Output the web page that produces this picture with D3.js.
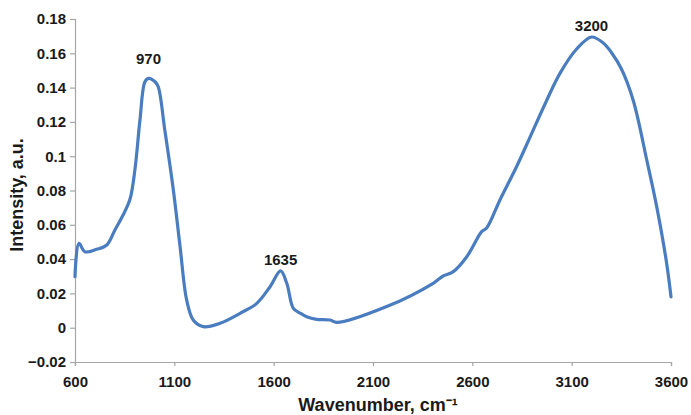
<!DOCTYPE html>
<html>
<head>
<meta charset="utf-8">
<script src="https://cdn.jsdelivr.net/npm/d3@7"></script>
<style>
  html, body { margin: 0; padding: 0; background: #fff; }
  svg text { font-family: "Liberation Sans", Arial, sans-serif; font-weight: bold; fill: #1a1a1a; }
</style>
</head>
<body>
<svg id="chart" width="691" height="415"></svg>
<script>
// Spectrum: wavenumber (cm^-1) and intensity (a.u.)
const wavenumber = [600, 620, 650, 709, 760, 801, 842, 877, 902, 927, 952, 970, 1003, 1019, 1052,
  1095, 1129, 1162, 1195, 1246, 1330, 1431, 1515, 1582, 1635, 1666, 1699, 1733, 1766, 1816, 1884,
  1917, 2169, 2403, 2454, 2504, 2572, 2647, 2672, 2739, 2823, 2890, 2974, 3041, 3125, 3200, 3259,
  3300, 3350, 3410, 3478, 3528, 3578, 3600];
const intensity = [0.0297, 0.0492, 0.0443, 0.0457, 0.0482, 0.0570, 0.0657, 0.0750, 0.0925, 0.1211,
  0.1434, 0.1454, 0.1434, 0.1405, 0.1153, 0.0803, 0.0472, 0.0162, 0.0045, 0.0006, 0.0026, 0.0084,
  0.0142, 0.0239, 0.0331, 0.0259, 0.0113, 0.0085, 0.0064, 0.0049, 0.0045, 0.0031, 0.0123, 0.0259,
  0.0302, 0.0327, 0.0414, 0.0560, 0.0581, 0.0745, 0.0940, 0.1110, 0.1325, 0.1483, 0.1625, 0.1695,
  0.1660, 0.1605, 0.1510, 0.1325, 0.0978, 0.0706, 0.0376, 0.0180];

// Labelled band positions
const peakLabels = [970, 1635, 3200];

const xTicks = [600, 1100, 1600, 2100, 2600, 3100, 3600];
const yTicks = [-0.02, 0, 0.02, 0.04, 0.06, 0.08, 0.1, 0.12, 0.14, 0.16, 0.18];

const svg = d3.select("#chart");
const x = d3.scaleLinear().domain([600, 3600]).range([75, 671]);
const y = d3.scaleLinear().domain([-0.02, 0.18]).range([362, 19]);

const axisColor = "#a6a6a6";
const tickFont = "15px";
const fmtY = v => (v === 0 ? "0" : (v < 0 ? "\u2212" + d3.format("")(+(-v).toFixed(2)) : d3.format("")(+v.toFixed(2))));

// y axis
const gy = svg.append("g").attr("transform", "translate(75,0)")
  .call(d3.axisLeft(y).tickValues(yTicks).tickSize(5).tickPadding(4).tickFormat(fmtY));
gy.select(".domain").attr("stroke", axisColor).attr("stroke-width", 1.2);
gy.selectAll(".tick line").attr("stroke", axisColor).attr("stroke-width", 1.2);
gy.selectAll(".tick text").style("font-size", tickFont).attr("fill", "#1a1a1a");

// x axis
const gx = svg.append("g").attr("transform", "translate(0,362)")
  .call(d3.axisBottom(x).tickValues(xTicks).tickSize(4).tickPadding(10).tickFormat(d3.format("d")));
gx.select(".domain").attr("stroke", axisColor).attr("stroke-width", 1.2);
gx.selectAll(".tick line").attr("stroke", axisColor).attr("stroke-width", 1.2);
gx.selectAll(".tick text").style("font-size", tickFont).attr("fill", "#1a1a1a");

// axis titles
svg.append("text")
  .attr("x", 378).attr("y", 411)
  .attr("text-anchor", "middle")
  .style("font-size", "18px")
  .text("Wavenumber, cm\u207B\u00B9");

svg.append("text")
  .attr("transform", "translate(23,195) rotate(-90)")
  .attr("text-anchor", "middle")
  .style("font-size", "18px")
  .text("Intensity, a.u.");

// spectrum line
const pts = wavenumber.map((w, i) => [w, intensity[i]]);
const line = d3.line()
  .x(d => x(d[0]))
  .y(d => y(d[1]))
  .curve(d3.curveCatmullRom.alpha(0.5));

svg.append("path")
  .datum(pts)
  .attr("fill", "none")
  .attr("stroke", "#4a7dbf")
  .attr("stroke-width", 3.2)
  .attr("stroke-linejoin", "round")
  .attr("stroke-linecap", "round")
  .attr("d", line);

// band labels above each peak (vertical gap per label)
const labelGap = { 970: 14, 1635: 6, 3200: 6 };
peakLabels.forEach(p => {
  const i = wavenumber.indexOf(p);
  svg.append("text")
    .attr("x", x(p))
    .attr("y", y(intensity[i]) - labelGap[p])
    .attr("text-anchor", "middle")
    .style("font-size", tickFont)
    .text(String(p));
});
</script>
</body>
</html>
